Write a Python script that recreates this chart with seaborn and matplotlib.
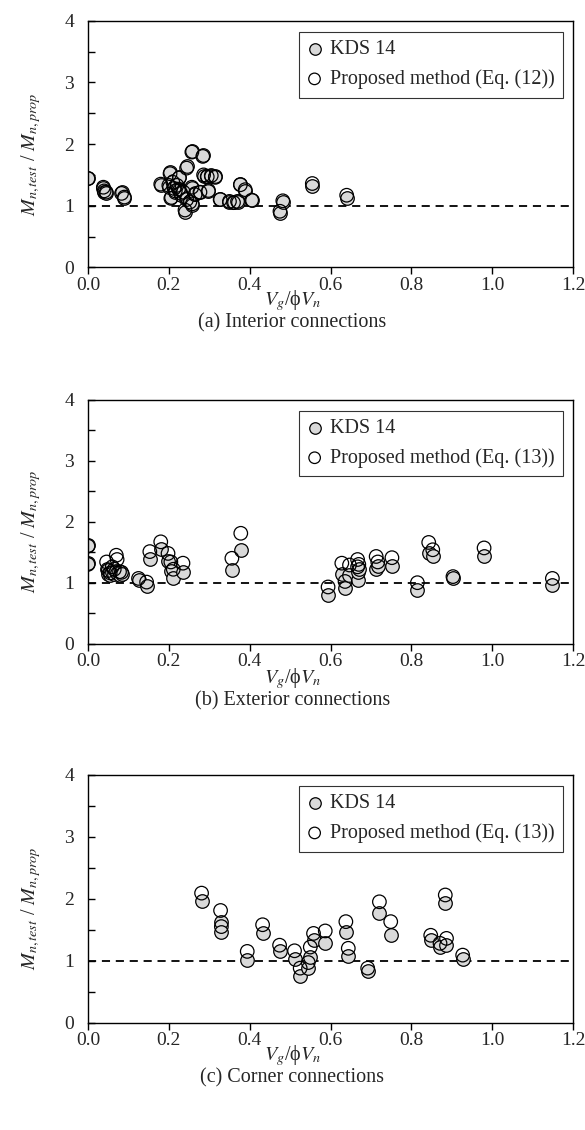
import numpy as np
import pandas as pd
import matplotlib
matplotlib.use("Agg")
import matplotlib.pyplot as plt
import seaborn as sns
from matplotlib.ticker import MultipleLocator

# ---------------- data ----------------
# (a) Interior connections
int_x = [0.000, 0.038, 0.040, 0.045, 0.083, 0.090, 0.180, 0.203, 0.205, 0.200,
         0.210, 0.213, 0.216, 0.220, 0.226, 0.224, 0.230, 0.236, 0.240, 0.244,
         0.244, 0.252, 0.257, 0.257, 0.258, 0.265, 0.277, 0.284, 0.286, 0.295,
         0.298, 0.305, 0.315, 0.327, 0.350, 0.360, 0.370, 0.377, 0.389, 0.405,
         0.475, 0.482, 0.555, 0.640]
int_kds = [1.45, 1.28, 1.22, 1.20, 1.22, 1.12, 1.34, 1.55, 1.14, 1.31,
           1.40, 1.30, 1.22, 1.35, 1.47, 1.26, 1.18, 1.24, 0.90, 1.13,
           1.64, 1.08, 1.89, 1.28, 1.01, 1.20, 1.23, 1.82, 1.48, 1.48,
           1.25, 1.48, 1.48, 1.11, 1.06, 1.06, 1.06, 1.36, 1.24, 1.10,
           0.89, 1.06, 1.32, 1.13]
int_prop = [1.44, 1.30, 1.24, 1.22, 1.20, 1.14, 1.35, 1.52, 1.12, 1.33,
            1.38, 1.28, 1.24, 1.33, 1.45, 1.27, 1.20, 1.22, 0.93, 1.10,
            1.61, 1.06, 1.87, 1.30, 1.03, 1.18, 1.22, 1.80, 1.50, 1.47,
            1.23, 1.49, 1.46, 1.10, 1.07, 1.05, 1.07, 1.34, 1.26, 1.09,
            0.91, 1.08, 1.36, 1.17]

# (b) Exterior connections
ext_x = [0.000, 0.000, 0.046, 0.050, 0.055, 0.060, 0.065, 0.070, 0.072, 0.078,
         0.083, 0.125, 0.145, 0.153, 0.180, 0.198, 0.205, 0.211, 0.235, 0.356,
         0.378, 0.594, 0.628, 0.636, 0.647, 0.667, 0.667, 0.670, 0.713, 0.717,
         0.752, 0.815, 0.843, 0.853, 0.903, 0.980, 1.149]
ext_kds = [1.62, 1.32, 1.22, 1.15, 1.12, 1.18, 1.14, 1.20, 1.16, 1.12,
           1.15, 1.04, 0.94, 1.39, 1.55, 1.36, 1.20, 1.07, 1.18, 1.21,
           1.54, 0.80, 1.15, 0.92, 1.13, 1.04, 1.18, 1.22, 1.22, 1.28,
           1.27, 0.88, 1.49, 1.43, 1.08, 1.43, 0.96]
ext_prop = [1.60, 1.30, 1.34, 1.20, 1.16, 1.26, 1.22, 1.45, 1.38, 1.18,
            1.17, 1.07, 1.01, 1.51, 1.67, 1.48, 1.34, 1.22, 1.32, 1.40,
            1.81, 0.93, 1.32, 1.02, 1.29, 1.38, 1.26, 1.30, 1.43, 1.34,
            1.41, 1.00, 1.66, 1.54, 1.10, 1.57, 1.07]

# (c) Corner connections
cor_x = [0.281, 0.328, 0.330, 0.394, 0.432, 0.474, 0.511, 0.525, 0.545, 0.550,
         0.558, 0.587, 0.638, 0.644, 0.692, 0.721, 0.749, 0.848, 0.871, 0.887,
         0.884, 0.927]
cor_kds = [1.97, 1.63, 1.47, 1.01, 1.45, 1.15, 1.02, 0.75, 0.88, 1.06,
           1.33, 1.29, 1.47, 1.07, 0.83, 1.77, 1.41, 1.33, 1.22, 1.25,
           1.93, 1.02]
cor_prop = [2.09, 1.81, 1.55, 1.15, 1.58, 1.25, 1.16, 0.88, 0.97, 1.22,
            1.44, 1.48, 1.63, 1.20, 0.88, 1.95, 1.63, 1.41, 1.28, 1.36,
            2.06, 1.09]

captions = ["(a) Interior connections", "(b) Exterior connections", "(c) Corner connections"]
prop_labels = ["Proposed method (Eq. (12))", "Proposed method (Eq. (13))", "Proposed method (Eq. (13))"]
x_ticks = [0.0, 0.2, 0.4, 0.6, 0.8, 1.0, 1.2]
y_ticks = [0, 1, 2, 3, 4]

# ---------------- style ----------------
sns.set_theme(style="white")
plt.rcParams["font.family"] = ["Liberation Serif", "DejaVu Serif"]
plt.rcParams["mathtext.fontset"] = "stix"

W, H = 585, 1130
fig = plt.figure(figsize=(W / 100, H / 100), dpi=100)

# axes boxes in pixels: (left, right, top, bottom)
boxes = [(88, 573, 20.7, 267.4), (88, 573, 399.7, 643.7), (88, 573, 774.7, 1022.7)]
xlab_y = [301, 679, 1056]
cap_y = [323, 701, 1078]

datasets = [(int_x, int_kds, int_prop), (ext_x, ext_kds, ext_prop), (cor_x, cor_kds, cor_prop)]

for i, ((l, r, t, b), (xs, kds, prop)) in enumerate(zip(boxes, datasets)):
    ax = fig.add_axes([l / W, 1 - b / H, (r - l) / W, (b - t) / H])
    df = pd.DataFrame({"x": xs, "kds": kds, "prop": prop})
    ax.axhline(1.0, color="black", lw=1.3, ls=(0, (4.5, 3.2)), zorder=1)
    sns.scatterplot(data=df, x="x", y="kds", ax=ax, color="#d9d9d9",
                    edgecolor="black", linewidth=0.9, s=95, marker="o",
                    label="KDS 14", zorder=2)
    sns.scatterplot(data=df, x="x", y="prop", ax=ax, color="none",
                    edgecolor="black", linewidth=0.9, s=95, marker="o",
                    label=prop_labels[i], zorder=3)
    ax.set_xlim(0, 1.2)
    ax.set_ylim(0, 4)
    ax.set_xticks(x_ticks)
    ax.set_xticklabels([f"{v:.1f}" for v in x_ticks])
    ax.set_yticks(y_ticks)
    ax.set_yticklabels([str(v) for v in y_ticks])
    ax.yaxis.set_minor_locator(MultipleLocator(0.5))
    ax.tick_params(axis="x", which="major", direction="out", length=5, width=1,
                   labelsize=14, pad=2, bottom=True, color="black")
    ax.tick_params(axis="y", which="both", direction="in", length=5, width=1,
                   labelsize=14, pad=10, left=True, color="black")
    for sp in ax.spines.values():
        sp.set_color("black")
        sp.set_linewidth(1.0)
    ax.set_xlabel("")
    ax.set_ylabel(r"$M_{n,test}$ / $M_{n,prop}$", fontsize=14.5)
    ax.yaxis.set_label_coords(-0.092, 0.46)
    leg = ax.legend(loc="upper right", bbox_to_anchor=(0.979, 0.955),
                    frameon=True, fancybox=False, edgecolor="black",
                    fontsize=14.5, handletextpad=0.4, borderpad=0.42,
                    labelspacing=0.5, handlelength=0.7, borderaxespad=0,
                    markerscale=0.85)
    leg.get_frame().set_linewidth(0.8)
    fig.text(0.5, 1 - xlab_y[i] / H, r"$V_g$/ϕ$V_n$", ha="center", va="center",
             fontsize=14.5)
    fig.text(0.5, 1 - cap_y[i] / H, captions[i], ha="center", va="center",
             fontsize=14.5)

fig.savefig("out.png", dpi=100)
